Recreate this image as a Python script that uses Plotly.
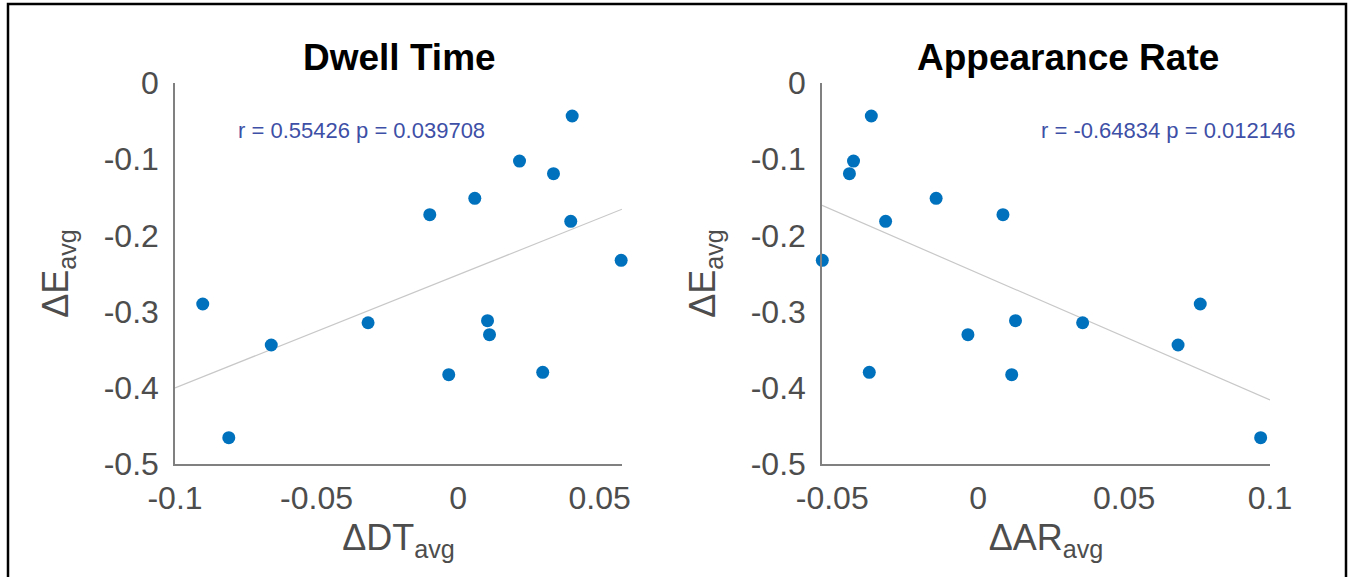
import numpy as np
import plotly.graph_objects as go

# ---- data ----
delta_E = [-0.290, -0.4655, -0.3438, -0.3146, -0.1728, -0.3828, -0.1513, -0.3119,
           -0.3303, -0.1024, -0.3797, -0.1190, -0.0433, -0.1815, -0.2327]
delta_DT = [-0.0902, -0.0810, -0.0660, -0.0318, -0.0100, -0.0033, 0.0059, 0.0104,
            0.0111, 0.0217, 0.0299, 0.0337, 0.0403, 0.0398, 0.0576]
delta_AR = [0.0761, 0.0968, 0.0685, 0.0358, 0.0085, 0.0115, -0.0144, 0.0128,
            -0.0035, -0.0427, -0.0373, -0.0441, -0.0366, -0.0317, -0.0534]

titles = ["Dwell Time", "Appearance Rate"]
stats_text = ["r = 0.55426 p = 0.039708", "r = -0.64834 p = 0.012146"]
x_titles = ["ΔDT<sub>avg</sub>", "ΔAR<sub>avg</sub>"]
y_title = "ΔE<sub>avg</sub>"
y_ticks = [0, -0.1, -0.2, -0.3, -0.4, -0.5]
y_ticktext = ["0", "-0.1", "-0.2", "-0.3", "-0.4", "-0.5"]
x_ticks_dt = [-0.1, -0.05, 0, 0.05]
x_ticktext_dt = ["-0.1", "-0.05", "0", "0.05"]
x_ticks_ar = [-0.05, 0, 0.05, 0.1]
x_ticktext_ar = ["-0.05", "0", "0.05", "0.1"]

W, H = 1348, 577
FONT = "Liberation Sans, Arial, Helvetica, sans-serif"
TICK_COLOR = "#4d4d4d"
AXIS_COLOR = "#808080"
DOT = "#0072BD"

x_ranges = [[-0.1, 0.0579], [-0.0535, 0.1]]
px_dom = [(175, 622), (822, 1270)]
y_top, y_bot = 83, 464

fig = go.Figure()

for i, xs in enumerate([delta_DT, delta_AR]):
    xa = "x" if i == 0 else "x2"
    ya = "y" if i == 0 else "y2"
    # regression line across axis range
    k, b = np.polyfit(xs, delta_E, 1)
    xr = x_ranges[i]
    fig.add_trace(go.Scatter(x=xr, y=[k * xr[0] + b, k * xr[1] + b], mode="lines",
                             line=dict(color="#c8c8c8", width=1.2),
                             xaxis=xa, yaxis=ya, showlegend=False, hoverinfo="skip",
                             cliponaxis=False))
    fig.add_trace(go.Scatter(x=xs, y=delta_E, mode="markers",
                             marker=dict(color=DOT, size=13, line=dict(width=0)),
                             xaxis=xa, yaxis=ya, showlegend=False, cliponaxis=False))

axis_common = dict(showgrid=False, zeroline=False, showline=True, linecolor=AXIS_COLOR,
                   linewidth=1.5, ticks="", automargin=False,
                   tickfont=dict(family=FONT, size=32, color=TICK_COLOR))

for i in range(2):
    sfx = "" if i == 0 else "2"
    x0, x1 = px_dom[i]
    fig.layout["xaxis" + sfx] = dict(
        axis_common, domain=[x0 / W, x1 / W], range=x_ranges[i],
        tickvals=x_ticks_dt if i == 0 else x_ticks_ar,
        ticktext=x_ticktext_dt if i == 0 else x_ticktext_ar,
        anchor="y" + sfx, ticklabelstandoff=5,
        title=dict(text=x_titles[i], font=dict(family=FONT, size=36, color=TICK_COLOR), standoff=10))
    fig.layout["yaxis" + sfx] = dict(
        axis_common, domain=[1 - y_bot / H, 1 - y_top / H], range=[-0.5, 0],
        tickvals=y_ticks, ticktext=y_ticktext, anchor="x" + sfx, ticklabelstandoff=8,
        title=dict(text=y_title, font=dict(family=FONT, size=36, color=TICK_COLOR), standoff=24))

annotations = []
title_cx = [400, 1068]
for i in range(2):
    annotations.append(dict(text="<b>%s</b>" % titles[i], xref="paper", yref="paper",
                            x=title_cx[i] / W, y=1 - 57 / H, xanchor="center", yanchor="middle",
                            showarrow=False, font=dict(family=FONT, size=37, color="black")))
annotations.append(dict(text=stats_text[0], xref="paper", yref="paper", x=236 / W, y=1 - 130 / H,
                        xanchor="left", yanchor="middle", showarrow=False,
                        font=dict(family=FONT, size=22, color="#3d4fa6")))
annotations.append(dict(text=stats_text[1], xref="paper", yref="paper", x=1297 / W, y=1 - 130 / H,
                        xanchor="right", yanchor="middle", showarrow=False,
                        font=dict(family=FONT, size=22, color="#3d4fa6")))

fig.update_layout(
    width=W, height=H, margin=dict(l=0, r=0, t=0, b=0, autoexpand=False),
    paper_bgcolor="white", plot_bgcolor="white",
    annotations=annotations,
    shapes=[dict(type="rect", xref="paper", yref="paper", x0=8 / W, x1=1346 / W,
                 y0=-0.1, y1=1 - 4 / H, line=dict(color="black", width=2.5))],
)

fig.write_html("out.html")
